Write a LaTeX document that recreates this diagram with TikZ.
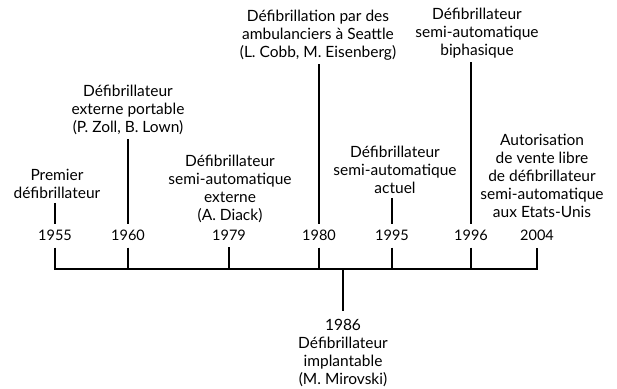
\documentclass[tikz,border=0pt]{standalone}
\usepackage{fontspec}
\setmainfont{Lato}
\begin{document}
\begin{tikzpicture}[x=1pt,y=1pt,
  lbl/.style={align=center,inner sep=0pt,font=\fontsize{15.5}{18}\selectfont},
  yr/.style={inner sep=0pt,font=\fontsize{14.5}{16}\selectfont},
  ln/.style={line width=2pt},
  up/.style={ln,shorten <=4pt,shorten >=5pt}]
\useasboundingbox (0,0) rectangle (617,388);
% event labels
\node[lbl] (e1955) at (57,204) {Premier\\défibrillateur};
\node[lbl] (e1960) at (128,278) {Défibrillateur\\externe portable\\(P. Zoll, B. Lown)};
\node[lbl] (e1979) at (230,199) {Défibrillateur\\semi-automatique\\externe\\(A. Diack)};
\node[lbl] (e1980) at (318,353) {Défibrillation par des\\ambulanciers à Seattle\\(L. Cobb, M. Eisenberg)};
\node[lbl] (e1995) at (395,218) {Défibrillateur\\semi-automatique\\actuel};
\node[lbl] (e1996) at (477,355) {Défibrillateur\\semi-automatique\\biphasique};
\node[lbl] (e2004) at (542,212) {Autorisation\\de vente libre\\de défibrillateur\\semi-automatique\\aux Etats-Unis};
\node[lbl] (e1986) at (343,35) {1986\\Défibrillateur\\implantable\\(M. Mirovski)};
% years
\node[yr] (y1955) at (55,153) {1955};
\node[yr] (y1960) at (128,153) {1960};
\node[yr] (y1979) at (229,153) {1979};
\node[yr] (y1980) at (319,153) {1980};
\node[yr] (y1995) at (392,153) {1995};
\node[yr] (y1996) at (471,153) {1996};
\node[yr] (y2004) at (537,153) {2004};
% bar coordinates
\coordinate (b1955) at (55,119);
\coordinate (b1960) at (128,119);
\coordinate (b1979) at (229,119);
\coordinate (b1980) at (319,119);
\coordinate (b1986) at (343,119);
\coordinate (b1995) at (392,119);
\coordinate (b1996) at (471,119);
\coordinate (b2004) at (537,119);
% upper connectors
\draw[up] (e1955.south -| y1955) -- (y1955.north);
\draw[up] (e1960.south -| y1960) -- (y1960.north);
\draw[up] (e1980.south -| y1980) -- (y1980.north);
\draw[up] (e1995.south -| y1995) -- (y1995.north);
\draw[up] (e1996.south -| y1996) -- (y1996.north);
% bar
\draw[ln,shorten <=7pt] (y1955.south) -- (b1955) -- (b2004) -- ([yshift=-7pt]y2004.south);
\foreach \y in {1960,1979,1980,1995,1996}
  \draw[ln] ([yshift=-7pt]y\y.south) -- (b\y);
\draw[ln,shorten >=8pt] (b1986) -- (e1986.north);
\end{tikzpicture}
\end{document}
